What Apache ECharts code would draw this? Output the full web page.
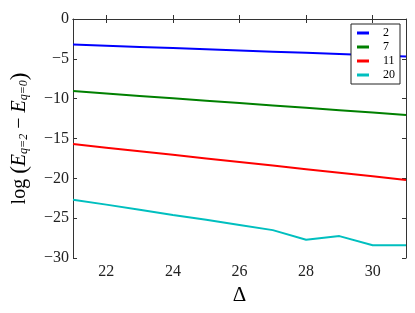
<!DOCTYPE html>
<html><head><meta charset="utf-8">
<script src="https://cdn.jsdelivr.net/npm/echarts@6/dist/echarts.min.js"></script>
<style>html,body{margin:0;padding:0;background:#fff}#c{width:415px;height:313px}</style>
</head><body><div id="c"></div>
<script>
const deltas = [21, 22, 23, 24, 25, 26, 27, 28, 29, 30, 31];
const s2  = [-3.2, -3.35, -3.5, -3.65, -3.8, -3.95, -4.1, -4.25, -4.4, -4.55, -4.7];
const s7  = [-9.05, -9.35, -9.65, -9.95, -10.25, -10.55, -10.85, -11.15, -11.45, -11.75, -12.05];
const s11 = [-15.7, -16.15, -16.6, -17.05, -17.5, -17.95, -18.4, -18.85, -19.3, -19.75, -20.2];
const s20 = [-22.7, -23.3, -23.95, -24.6, -25.2, -25.85, -26.5, -27.7, -27.25, -28.4, -28.4];
const xTicks = [22, 24, 26, 28, 30];
const seriesNames = ['2', '7', '11', '20'];
const seriesColors = ['#0000ff', '#008000', '#ff0000', '#00bfbf'];
const seriesData = [s2, s7, s11, s20];

const font = 'Liberation Serif';
const axisCol = '#333';
const chart = echarts.init(document.getElementById('c'));
const mk = (arr) => deltas.map((d, i) => [d, arr[i]]);
const fmt = v => String(v).replace('-', '\u2212');
chart.setOption({
  animation: false,
  grid: {left: 72, right: 9, top: 19, bottom: 55},
  legend: {
    right: 15, top: 24, orient: 'vertical',
    data: seriesNames.map(n => ({name: n})),
    icon: 'rect', itemWidth: 12, itemHeight: 3, itemGap: 0,
    borderColor: '#222', borderWidth: 1, borderRadius: 0,
    padding: [2, 5, 2, 6], backgroundColor: '#fff',
    textStyle: {fontFamily: font, fontSize: 12, color: '#000', lineHeight: 14, padding: [0, 0, 0, 9]}
  },
  xAxis: [{
    type: 'value', min: 21, max: 31, interval: 1,
    name: 'Δ', nameLocation: 'middle', nameGap: 26,
    nameTextStyle: {fontFamily: font, fontSize: 21, color: '#000'},
    axisLine: {lineStyle: {color: axisCol, width: 1}},
    axisTick: {inside: true, length: 4, lineStyle: {color: axisCol}, customValues: xTicks},
    axisLabel: {fontFamily: font, fontSize: 16, color: '#222', margin: 6,
      customValues: xTicks, formatter: fmt},
    splitLine: {show: false}
  }, {
    type: 'value', min: 21, max: 31, interval: 1, position: 'top',
    axisLine: {lineStyle: {color: axisCol, width: 1}},
    axisTick: {inside: true, length: 4, lineStyle: {color: axisCol}, customValues: xTicks},
    axisLabel: {show: false}, splitLine: {show: false}
  }],
  yAxis: [{
    type: 'value', min: -30, max: 0, interval: 5,
    name: '{n|log }{p|(}{e|E}{s|q=2}{n| \u2212 }{e|E}{s|q=0}{p|)}',
    nameLocation: 'middle', nameGap: 42, nameRotate: 90,
    nameTextStyle: {
      fontFamily: font, fontSize: 20, color: '#000',
      rich: {
        n: {fontFamily: font, fontSize: 20, color: '#000'},
        p: {fontFamily: font, fontSize: 23, color: '#000'},
        e: {fontFamily: font, fontSize: 20, fontStyle: 'italic', color: '#000'},
        s: {fontFamily: font, fontSize: 12, fontStyle: 'italic', color: '#000', padding: [9, 0, 0, 0]}
      }
    },
    axisLine: {lineStyle: {color: axisCol, width: 1}},
    axisTick: {inside: true, length: 4, lineStyle: {color: axisCol}},
    axisLabel: {fontFamily: font, fontSize: 16, color: '#222', margin: 4, formatter: fmt},
    splitLine: {show: false}
  }, {
    type: 'value', min: -30, max: 0, interval: 5, position: 'right',
    axisLine: {lineStyle: {color: axisCol, width: 1}},
    axisTick: {inside: true, length: 4, lineStyle: {color: axisCol}},
    axisLabel: {show: false}, splitLine: {show: false}
  }],
  series: seriesNames.map((n, i) => ({
    name: n, type: 'line', xAxisIndex: 0, yAxisIndex: 0,
    data: mk(seriesData[i]), showSymbol: false, symbol: 'none',
    lineStyle: {color: seriesColors[i], width: 2}, itemStyle: {color: seriesColors[i]}
  }))
});
</script></body></html>
